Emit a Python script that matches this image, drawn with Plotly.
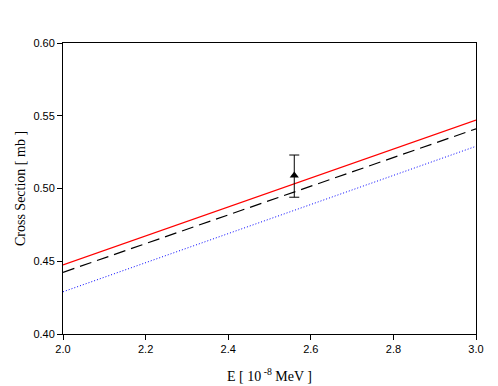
import plotly.graph_objects as go

# line endpoints
energy = [2.0, 3.0]
red_solid = [0.4475, 0.547]
black_dashed = [0.4424, 0.541]
blue_dotted = [0.429, 0.529]

# measured point with error bar
point_x = [2.56]
point_y = [0.509]
err_plus = [0.014]
err_minus = [0.015]

fig = go.Figure()
fig.add_trace(go.Scatter(x=energy, y=red_solid, mode="lines",
                         line={"color": "#ff0000", "width": 1.2}))
fig.add_trace(go.Scatter(x=energy, y=black_dashed, mode="lines",
                         line={"color": "#000000", "width": 1.2, "dash": "12px,6px"}))
fig.add_trace(go.Scatter(x=energy, y=blue_dotted, mode="lines",
                         line={"color": "#0000ff", "width": 1, "dash": "1px,2px"}))
fig.add_trace(go.Scatter(
    x=point_x, y=point_y, mode="markers",
    marker={"symbol": "triangle-up", "size": 8, "color": "#000000"},
    error_y={"type": "data", "symmetric": False, "array": err_plus,
             "arrayminus": err_minus, "color": "#000000", "thickness": 1, "width": 5},
))

axis_common = {
    "showgrid": False,
    "zeroline": False,
    "showline": True,
    "linecolor": "#000000",
    "linewidth": 1,
    "mirror": True,
    "ticks": "outside",
    "ticklen": 5,
    "tickcolor": "#000000",
    "tickfont": {"family": "Liberation Sans, Arial", "size": 11, "color": "#000000"},
}
title_font = {"family": "Liberation Serif, Times New Roman", "size": 14, "color": "#000000"}

# the page body adds an 8px offset, so margins are shifted to compensate
fig.update_layout(
    width=498,
    height=386,
    showlegend=False,
    plot_bgcolor="white",
    paper_bgcolor="white",
    margin={"l": 53, "r": 30, "t": 35, "b": 60},
    xaxis={**axis_common, "range": [2.0, 3.0], "tickvals": [2.0, 2.2, 2.4, 2.6, 2.8, 3.0],
           "tickformat": ".1f",
           "title": {"text": "E [ 10<sup> -8</sup> MeV ]", "standoff": 16, "font": title_font}},
    yaxis={**axis_common, "range": [0.40, 0.60], "tickvals": [0.40, 0.45, 0.50, 0.55, 0.60],
           "tickformat": ".2f",
           "title": {"text": "Cross Section [ mb ]", "standoff": 4, "font": title_font}},
)

fig.write_html("out.html")
